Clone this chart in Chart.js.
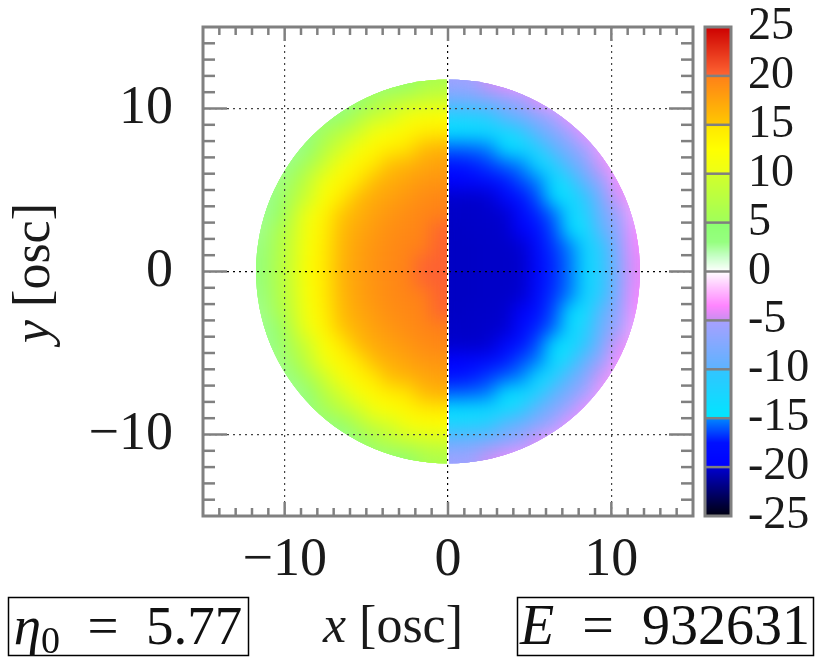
<!DOCTYPE html>
<html>
<head>
<meta charset="utf-8">
<title>density map</title>
<script src="https://cdn.jsdelivr.net/npm/chart.js@4.4.0/dist/chart.umd.min.js"></script>
<style>
  html, body { margin: 0; padding: 0; background: #fff; overflow: hidden; }
  canvas { display: block; }
</style>
</head>
<body>
<canvas id="chart-heat" width="824" height="665"></canvas>
<script>
// cell centres in osc units
const xCenters = [-11.5, -10.5, -9.5, -8.5, -7.5, -6.5, -5.5, -4.5, -3.5, -2.5, -1.5, -0.5,
                  0.5, 1.5, 2.5, 3.5, 4.5, 5.5, 6.5, 7.5, 8.5, 9.5, 10.5, 11.5];
const yCenters = [11.5, 10.5, 9.5, 8.5, 7.5, 6.5, 5.5, 4.5, 3.5, 2.5, 1.5, 0.5,
                  -0.5, -1.5, -2.5, -3.5, -4.5, -5.5, -6.5, -7.5, -8.5, -9.5, -10.5, -11.5];

// value read in each cell, top row first (_ = outside the cloud)
const _ = null;
const cellValues = [
  [_, _, _, _, _, _, _, 2.9, 3.9, 4.9, 5.6, 6.2, -5.6, -5.4, -4.8, -4.0, -3.1, _, _, _, _, _, _, _],
  [_, _, _, _, _, 2.6, 4.2, 5.6, 7.5, 8.4, 9.2, 9.8, -8.8, -8.4, -7.8, -6.9, -5.6, -4.3, -2.7, _, _, _, _, _],
  [_, _, _, _, 2.9, 4.9, 6.6, 8.8, 10.0, 10.9, 11.9, 12.4, -11.6, -11.3, -10.6, -9.7, -8.5, -6.9, -5.1, -3.3, _, _, _, _],
  [_, _, _, 2.9, 5.1, 7.9, 9.6, 11.1, 12.3, 13.2, 14.2, 14.6, -14.6, -14.4, -14.0, -13.3, -11.0, -9.4, -7.5, -5.4, -3.3, _, _, _],
  [_, _, 2.5, 4.8, 7.8, 9.9, 11.7, 13.2, 14.3, 15.0, 15.9, 16.5, -15.8, -15.6, -15.2, -14.7, -14.1, -11.8, -9.8, -7.6, -5.2, -2.8, _, _],
  [_, 2.5, 3.8, 6.4, 9.6, 11.7, 13.5, 14.8, 15.8, 16.4, 17.3, 17.8, -17.6, -17.3, -16.6, -15.8, -15.1, -14.3, -11.9, -9.6, -7.1, -4.5, -2.5, _],
  [_, 2.6, 5.4, 8.8, 11.1, 13.2, 14.8, 16.0, 16.9, 17.6, 18.3, 18.6, -19.5, -19.1, -18.4, -17.4, -16.2, -15.2, -14.2, -11.4, -8.8, -6.0, -3.3, _],
  [2.5, 3.7, 6.6, 10.0, 12.4, 14.4, 15.9, 17.0, 17.8, 18.4, 19.2, 19.6, -20.1, -20.1, -20.0, -18.9, -17.6, -16.1, -14.9, -13.6, -10.2, -7.4, -4.5, -2.5],
  [2.5, 4.7, 8.4, 11.0, 13.5, 15.2, 16.6, 17.7, 18.5, 19.1, 19.6, 20.0, -20.2, -20.2, -20.1, -20.0, -18.8, -17.1, -15.6, -14.0, -11.4, -8.6, -5.4, -2.6],
  [2.6, 5.4, 9.1, 11.8, 14.2, 15.9, 17.2, 18.2, 19.0, 19.4, 19.8, 20.1, -20.3, -20.2, -20.2, -20.1, -19.8, -18.0, -16.2, -14.8, -13.2, -9.4, -6.3, -3.3],
  [2.9, 5.9, 9.6, 12.3, 14.6, 16.2, 17.6, 18.6, 19.2, 19.7, 20.0, 20.2, -20.3, -20.3, -20.2, -20.2, -20.0, -18.6, -16.7, -15.1, -13.7, -10.0, -6.8, -3.7],
  [3.1, 6.2, 9.9, 12.6, 14.8, 16.4, 17.7, 18.7, 19.4, 19.8, 20.1, 20.2, -20.3, -20.3, -20.2, -20.2, -20.1, -19.0, -17.0, -15.3, -14.0, -10.3, -7.1, -4.0],
  [3.1, 6.2, 9.9, 12.6, 14.8, 16.4, 17.7, 18.7, 19.4, 19.8, 20.1, 20.2, -20.3, -20.3, -20.2, -20.2, -20.1, -19.0, -17.0, -15.3, -14.0, -10.3, -7.1, -4.0],
  [2.9, 5.9, 9.6, 12.3, 14.6, 16.2, 17.6, 18.6, 19.2, 19.7, 20.0, 20.2, -20.3, -20.3, -20.2, -20.2, -20.0, -18.6, -16.7, -15.1, -13.7, -10.0, -6.8, -3.7],
  [2.6, 5.4, 9.1, 11.8, 14.2, 15.9, 17.2, 18.2, 19.0, 19.4, 19.8, 20.1, -20.3, -20.2, -20.2, -20.1, -19.8, -18.0, -16.2, -14.8, -13.2, -9.4, -6.3, -3.3],
  [2.5, 4.7, 8.4, 11.0, 13.5, 15.2, 16.6, 17.7, 18.5, 19.1, 19.6, 20.0, -20.2, -20.2, -20.1, -20.0, -18.8, -17.1, -15.6, -14.0, -11.4, -8.6, -5.4, -2.6],
  [2.5, 3.7, 6.6, 10.0, 12.4, 14.4, 15.9, 17.0, 17.8, 18.4, 19.2, 19.6, -20.1, -20.1, -20.0, -18.9, -17.6, -16.1, -14.9, -13.6, -10.2, -7.4, -4.5, -2.5],
  [_, 2.6, 5.4, 8.8, 11.1, 13.2, 14.8, 16.0, 16.9, 17.6, 18.3, 18.6, -19.5, -19.1, -18.4, -17.4, -16.2, -15.2, -14.2, -11.4, -8.8, -6.0, -3.3, _],
  [_, 2.5, 3.8, 6.4, 9.6, 11.7, 13.5, 14.8, 15.8, 16.4, 17.3, 17.8, -17.6, -17.3, -16.6, -15.8, -15.1, -14.3, -11.9, -9.6, -7.1, -4.5, -2.5, _],
  [_, _, 2.5, 4.8, 7.8, 9.9, 11.7, 13.2, 14.3, 15.0, 15.9, 16.5, -15.8, -15.6, -15.2, -14.7, -14.1, -11.8, -9.8, -7.6, -5.2, -2.8, _, _],
  [_, _, _, 2.9, 5.1, 7.9, 9.6, 11.1, 12.3, 13.2, 14.2, 14.6, -14.6, -14.4, -14.0, -13.3, -11.0, -9.4, -7.5, -5.4, -3.3, _, _, _],
  [_, _, _, _, 2.9, 4.9, 6.6, 8.8, 10.0, 10.9, 11.9, 12.4, -11.6, -11.3, -10.6, -9.7, -8.5, -6.9, -5.1, -3.3, _, _, _, _],
  [_, _, _, _, _, 2.6, 4.2, 5.6, 7.5, 8.4, 9.2, 9.8, -8.8, -8.4, -7.8, -6.9, -5.6, -4.3, -2.7, _, _, _, _, _],
  [_, _, _, _, _, _, _, 2.9, 3.9, 4.9, 5.6, 6.2, -5.6, -5.4, -4.8, -4.0, -3.1, _, _, _, _, _, _, _]
];

const axisTicks = [-10, 0, 10];
const colorTicks = [-25, -20, -15, -10, -5, 0, 5, 10, 15, 20, 25];
const diskRadius = 11.75;
const eta0 = '5.77';
const energy = '932631';

// palette of the colour bar, jumps at every multiple of 5
const paletteStops = [
  [-25, '#00000f'], [-20, '#0000d0'],
  [-20, '#0000ff'], [-17.5, '#0010ff'], [-15, '#0088ff'],
  [-15, '#00e6ff'], [-10, '#33c4ff'],
  [-10, '#5cb3ff'], [-5, '#a8a0ff'],
  [-5, '#c88ef0'], [-3.5, '#ff85ff'], [-1.5, '#ffc8ff'], [0, '#ffffff'],
  [0, '#ffffff'], [1.5, '#c8ffc8'], [3, '#96ff80'], [5, '#8cff70'],
  [5, '#a0ff5a'], [10, '#d2ff2a'],
  [10, '#ecff18'], [12.5, '#ffff00'], [15, '#ffe600'],
  [15, '#ffc800'], [20, '#ff8018'],
  [20, '#ff6633'], [25, '#cc0000']
];

const palette = paletteStops.map(s => ({
  v: s[0],
  c: [1, 3, 5].map(i => parseInt(s[1].substr(i, 2), 16))
}));

function colorFor(v) {
  let a = palette[0], b = palette[0], t = 0;
  if (v >= palette[palette.length - 1].v) {
    a = b = palette[palette.length - 1];
  } else if (v > palette[0].v) {
    for (let i = 0; i < palette.length - 1; i++) {
      if (palette[i + 1].v > palette[i].v && v >= palette[i].v && v <= palette[i + 1].v) {
        a = palette[i]; b = palette[i + 1];
        t = (v - a.v) / (b.v - a.v);
        break;
      }
    }
  }
  const c = a.c.map((ch, k) => Math.round(ch + (b.c[k] - ch) * t));
  return 'rgb(' + c.join(',') + ')';
}

const leftCells = [], rightCells = [];
yCenters.forEach((y, r) => {
  xCenters.forEach((x, c) => {
    const v = cellValues[r][c];
    if (v === null) return;
    (x < 0 ? leftCells : rightCells).push({x: x, y: y, v: v});
  });
});

const serif = "'Liberation Serif', 'DejaVu Serif', serif";
const minusFmt = v => (v < 0 ? '\u2212' + Math.abs(v) : String(v));

function cellRadius(chart) {
  const xs = chart.scales.x;
  const side = xs.getPixelForValue(1) - xs.getPixelForValue(0) + 1;
  return side / Math.SQRT2;
}

const cellStyle = {
  pointStyle: 'rect',
  pointBorderWidth: 0,
  pointRadius: ctx => cellRadius(ctx.chart),
  pointBackgroundColor: ctx => (ctx.raw ? colorFor(ctx.raw.v) : 'transparent')
};

// each half is drawn crisp, then softened copies are laid over it inside the half disc
const cellLayers = [];
const smoothCells = {
  id: 'smoothCells',
  afterDatasetDraw(chart, args) {
    const cv = chart.canvas;
    const copy = document.createElement('canvas');
    copy.width = cv.width;
    copy.height = cv.height;
    copy.getContext('2d').drawImage(cv, 0, 0);
    cellLayers[args.index] = copy;
    chart.ctx.clearRect(0, 0, cv.width, cv.height);
  },
  afterDatasetsDraw(chart) {
    const ctx = chart.ctx, a = chart.chartArea;
    const xs = chart.scales.x, ys = chart.scales.y;
    const cx = xs.getPixelForValue(0), cy = ys.getPixelForValue(0);
    const R = xs.getPixelForValue(diskRadius) - cx;
    [[0, a.left, cx - 1], [1, cx + 1, a.right]].forEach(h => {
      const layer = cellLayers[h[0]];
      if (!layer) return;
      ctx.save();
      ctx.beginPath();
      ctx.arc(cx, cy, R, 0, Math.PI * 2);
      ctx.clip();
      ctx.beginPath();
      ctx.rect(h[1], a.top, h[2] - h[1], a.bottom - a.top);
      ctx.clip();
      ctx.drawImage(layer, 0, 0);
      ctx.filter = 'blur(9px)';
      for (let k = 0; k < 5; k++) ctx.drawImage(layer, 0, 0);
      ctx.restore();
    });
  }
};

function line(ctx, x1, y1, x2, y2) {
  ctx.beginPath();
  ctx.moveTo(x1, y1);
  ctx.lineTo(x2, y2);
  ctx.stroke();
}

function drawParts(ctx, parts, x, y) {
  const fontOf = p => (p.it ? 'italic ' : '') + (p.size || 52) + 'px ' + serif;
  const widths = parts.map(p => { ctx.font = fontOf(p); return ctx.measureText(p.t).width; });
  let px = x - widths.reduce((s, w) => s + w, 0) / 2;
  ctx.textAlign = 'left';
  ctx.textBaseline = 'alphabetic';
  parts.forEach((p, i) => {
    ctx.font = fontOf(p);
    ctx.fillText(p.t, px, y + (p.dy || 0));
    px += widths[i];
  });
}

const decorations = {
  id: 'decorations',
  afterDraw(chart) {
    const ctx = chart.ctx, a = chart.chartArea;
    const xs = chart.scales.x, ys = chart.scales.y, cb = chart.scales.cb;
    ctx.save();

    // colour bar
    const barL = a.right + 12, barW = 26;
    for (let py = Math.floor(cb.top); py < cb.bottom; py++) {
      ctx.fillStyle = colorFor(cb.getValueForPixel(py + 0.5));
      ctx.fillRect(barL, py, barW, 1);
    }
    ctx.strokeStyle = '#808080';
    ctx.lineWidth = 2.5;
    colorTicks.forEach(v => {
      if (Math.abs(v) < 25) {
        const py = cb.getPixelForValue(v);
        line(ctx, barL, py, barL + barW, py);
      }
    });
    ctx.lineWidth = 3;
    ctx.strokeRect(barL, cb.top, barW, cb.bottom - cb.top);

    // frame and tick marks
    ctx.strokeRect(a.left, a.top, a.right - a.left, a.bottom - a.top);
    ctx.lineWidth = 2.5;
    for (let v = -14; v <= 14; v++) {
      const major = axisTicks.indexOf(v) >= 0;
      const lv = major ? 14 : 8, lh = major ? 24 : 12;
      const px = xs.getPixelForValue(v), py = ys.getPixelForValue(v);
      line(ctx, px, a.bottom, px, a.bottom - lv);
      line(ctx, px, a.top, px, a.top + lv);
      line(ctx, a.left, py, a.left + lh, py);
      line(ctx, a.right, py, a.right - lh, py);
    }

    // axis titles
    ctx.fillStyle = '#1a1a1a';
    drawParts(ctx, [{t: 'x', it: true}, {t: ' [osc]'}], 393, 642);
    ctx.save();
    ctx.translate(49, 273);
    ctx.rotate(-Math.PI / 2);
    drawParts(ctx, [{t: 'y', it: true}, {t: ' [osc]'}], 0, 0);
    ctx.restore();

    // labelled boxes
    ctx.strokeStyle = '#000';
    ctx.lineWidth = 1.5;
    ctx.strokeRect(8.5, 597.5, 240, 58);
    ctx.strokeRect(517.5, 597.5, 296, 58);
    ctx.fillStyle = '#111';
    drawParts(ctx, [{t: '\u03b7', it: true, size: 55}, {t: '0', size: 38, dy: 9},
                    {t: '\u2002=\u2002' + eta0, size: 55}], 128, 644);
    drawParts(ctx, [{t: 'E', it: true, size: 56}, {t: '\u2002=\u2002' + energy, size: 56}], 665, 644);
    ctx.restore();
  }
};

const gridColor = c => (c.tick && c.tick.value === 0 ? '#000' : '#444');

new Chart(document.getElementById('chart-heat'), {
  type: 'scatter',
  data: {
    datasets: [
      Object.assign({label: 'x < 0', data: leftCells}, cellStyle),
      Object.assign({label: 'x > 0', data: rightCells}, cellStyle)
    ]
  },
  options: {
    responsive: false,
    devicePixelRatio: 1,
    animation: false,
    events: [],
    layout: {padding: {top: 27, right: 0, bottom: 0, left: 0}},
    plugins: {legend: {display: false}, tooltip: {enabled: false}, title: {display: false}},
    scales: {
      x: {
        type: 'linear', position: 'bottom', min: -15, max: 15,
        afterBuildTicks: s => { s.ticks = axisTicks.map(v => ({value: v})); },
        afterFit: s => { s.height = 149; },
        ticks: {z: 1, font: {family: serif, size: 54}, color: '#1a1a1a', padding: 12,
                maxRotation: 0, autoSkip: false, callback: minusFmt},
        grid: {z: 1, drawTicks: false, lineWidth: 1.2, color: gridColor},
        border: {display: false, dash: [2, 4]}
      },
      y: {
        type: 'linear', position: 'left', min: -15, max: 15,
        afterBuildTicks: s => { s.ticks = axisTicks.map(v => ({value: v})); },
        afterFit: s => { s.width = 203; },
        ticks: {z: 1, font: {family: serif, size: 54, lineHeight: 0.9}, color: '#1a1a1a', padding: 0,
                autoSkip: false, callback: minusFmt},
        grid: {z: 1, drawTicks: true, tickLength: 30, tickColor: 'rgba(0,0,0,0)',
               lineWidth: 1.2, color: gridColor},
        border: {display: false, dash: [2, 4]}
      },
      cb: {
        type: 'linear', position: 'right', min: -25, max: 25,
        afterBuildTicks: s => { s.ticks = colorTicks.map(v => ({value: v})); },
        afterFit: s => { s.width = 131; },
        ticks: {z: 1, font: {family: serif, size: 46, lineHeight: 1}, color: '#1a1a1a', padding: 0,
                autoSkip: false, callback: v => String(v)},
        grid: {z: 1, drawOnChartArea: false, drawTicks: true, tickLength: 55,
               tickColor: 'rgba(0,0,0,0)'},
        border: {display: false}
      }
    }
  },
  plugins: [smoothCells, decorations]
});
</script>
</body>
</html>
